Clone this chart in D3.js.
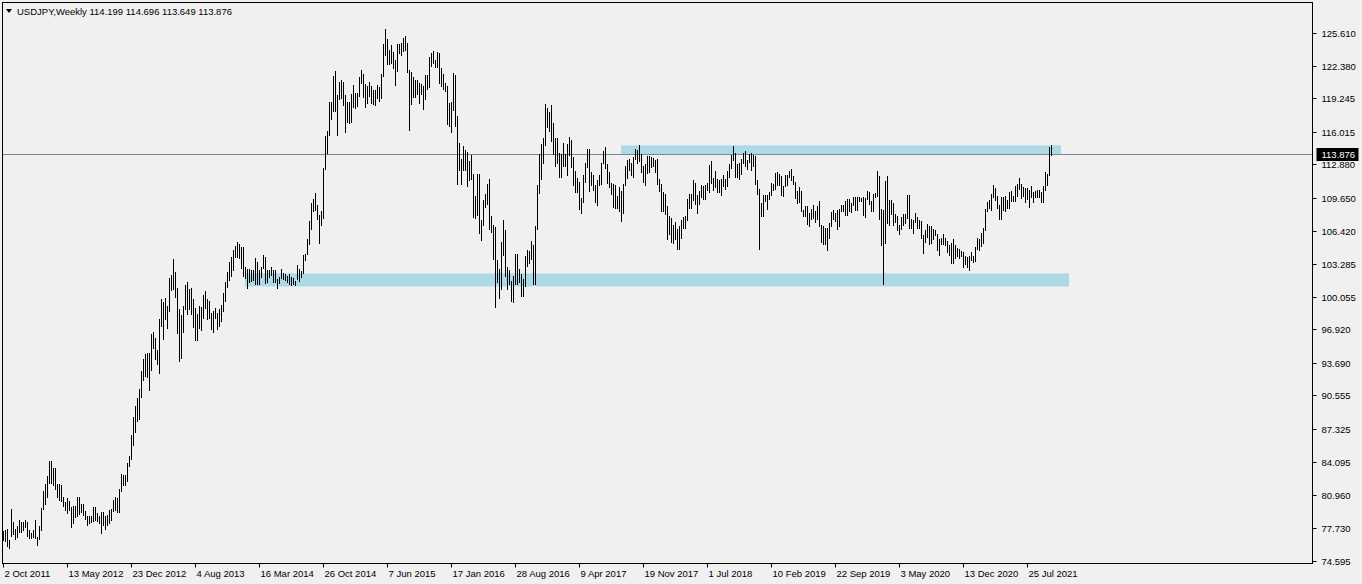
<!DOCTYPE html>
<html>
<head>
<meta charset="utf-8">
<script src="https://cdn.jsdelivr.net/npm/d3@7"></script>
<style>
  html, body { margin: 0; padding: 0; background: #f0f0f0; }
  svg { display: block; }
  text { font-family: "Liberation Sans", Arial, sans-serif; }
</style>
</head>
<body>
<svg id="chart" width="1362" height="584"></svg>
<script>
// ---- Data (USDJPY weekly, first bar = week of 2 Oct 2011) ----
const symbolTitle = "USDJPY,Weekly";
const lastOHLC = ["114.199", "114.696", "113.649", "113.876"];
const lastPrice = 113.876;

const highs = [
  // 2011 Oct-Dec
  77.4,77.5,77.6,76.6,79.6,78.3,77.6,77.9,78.5,78.3,78.3,78.5,78.3,
  // 2012
  77.5,77.3,77.5,78.5,76.9,77.9,79.7,81.35,82.0,82.8,84.2,84.2,83.5,83.5,82.0,81.95,81.85,80.75,80.2,80.6,80.3,79.8,
  79.9,79.9,80.7,80.75,80.1,80.1,79.35,78.9,78.9,78.9,79.75,79.8,79.15,78.9,79.3,79.3,78.9,79.0,79.5,79.6,80.45,80.7,
  80.6,81.5,82.96,82.9,82.9,84.0,84.7,86.7,88.45,
  // 2013
  89.55,90.3,91.2,92.95,94.1,94.5,94.6,94.65,96.5,96.7,96.1,94.9,97.9,99.9,99.6,99.95,99.2,101.9,102.2,103.7,102.5,100.9,
  98.9,98.3,99.2,101.2,101.5,100.8,100.9,99.9,99.0,98.4,99.2,99.1,100.2,100.6,99.9,99.7,98.5,98.7,99.0,98.5,98.9,99.3,
  100.4,101.5,102.5,103.4,103.9,104.6,105.0,105.4,
  // 2014
  105.2,104.9,104.9,103.0,102.8,102.8,102.7,102.7,103.8,103.4,102.7,103.0,104.1,103.9,102.7,102.7,103.0,102.7,102.7,101.8,
  102.0,102.8,102.4,102.3,102.1,102.3,102.0,101.9,101.6,103.1,102.8,102.6,104.1,104.2,105.7,107.4,109.1,109.5,110.1,108.9,
  108.0,108.4,112.5,115.6,116.1,118.9,118.9,121.4,121.9,119.6,120.8,121.0,
  // 2015
  120.8,119.6,118.9,118.9,119.7,120.5,119.8,119.8,121.3,122.0,121.6,120.6,120.4,120.8,120.4,120.1,120.1,120.5,120.3,121.6,
  124.5,125.9,125.0,123.9,124.4,123.7,123.0,124.5,124.5,124.6,125.1,125.3,124.6,122.0,121.8,121.3,121.0,121.0,120.7,120.6,
  120.4,121.5,121.5,123.2,123.6,123.8,123.0,123.7,123.6,122.2,121.6,120.7,
  // 2016
  120.4,118.8,118.9,121.7,121.5,117.5,114.9,113.4,114.6,114.3,114.1,113.2,113.8,111.9,109.8,111.9,111.9,107.5,109.4,110.0,
  111.0,111.5,107.9,107.0,106.8,103.6,102.8,105.4,107.5,106.5,103.0,102.7,101.6,102.1,104.2,104.2,102.8,102.3,101.8,104.0,
  104.6,104.5,105.5,105.1,106.9,110.9,113.9,114.8,115.4,118.7,118.3,117.9,
  // 2017
  118.6,116.9,115.4,115.4,114.0,113.9,114.9,113.9,114.8,115.5,115.2,113.6,112.2,111.6,111.2,109.6,111.8,113.0,114.4,114.4,
  112.1,111.8,110.9,111.4,111.8,113.0,114.2,114.5,112.9,112.1,111.1,111.0,110.9,109.8,110.7,110.3,111.0,112.7,113.3,113.4,
  113.0,113.6,114.4,114.3,114.7,113.9,112.7,112.9,113.7,113.7,113.6,113.5,113.3,
  // 2018
  113.4,111.5,111.0,110.2,110.0,108.8,107.9,107.7,107.0,107.3,106.6,106.9,107.5,107.8,107.9,109.5,110.0,110.0,111.4,111.1,
  109.9,110.3,110.9,110.8,110.9,111.1,112.8,113.2,111.6,112.2,111.5,111.4,111.5,111.8,111.5,112.2,112.9,113.8,114.6,114.0,
  112.9,113.0,113.4,114.0,114.2,113.3,113.9,114.0,113.8,113.7,111.4,110.5,
  // 2019
  109.1,109.9,109.9,109.9,110.2,111.1,111.0,112.0,112.1,111.9,111.7,110.8,111.8,111.8,112.2,112.4,111.7,111.2,110.3,110.7,
  110.3,108.5,108.8,108.8,108.2,108.6,108.9,108.4,108.8,109.3,107.0,106.9,106.7,106.7,107.2,108.3,108.5,108.2,108.5,108.6,
  108.9,108.9,109.3,109.5,109.5,109.1,109.7,109.7,109.7,109.7,109.6,109.7,
  // 2020
  109.6,110.3,110.2,109.3,110.0,110.1,112.2,111.7,108.6,108.5,111.3,111.7,109.4,109.4,109.1,108.1,107.9,107.0,107.8,108.1,
  108.1,109.9,109.9,107.6,107.5,108.2,107.8,107.5,107.4,106.0,106.5,107.1,106.9,106.9,106.6,106.5,106.1,105.7,105.8,106.1,
  105.8,105.5,105.1,105.3,105.7,105.1,104.8,104.7,104.5,104.4,104.0,103.9,
  // 2021
  104.0,104.4,104.0,104.9,105.8,105.7,106.2,106.7,108.6,109.2,109.4,110.0,110.9,110.6,109.8,108.9,109.7,109.7,109.8,109.4,
  110.2,110.3,109.8,110.8,111.0,111.6,111.0,110.7,110.6,110.6,110.4,110.8,110.2,110.3,110.4,110.4,110.2,110.8,112.1,111.9,
  114.5,114.696
];

const lows = [
  // 2011 Oct-Dec
  76.5,76.4,75.9,75.7,76.9,77.1,76.6,76.8,77.3,77.3,77.4,77.7,76.9,
  // 2012
  76.7,76.7,76.8,76.7,76.0,76.6,77.4,79.5,80.0,80.6,82.0,81.95,81.8,81.45,80.6,80.3,80.2,79.75,79.4,79.1,79.35,77.75,
  78.1,78.7,78.8,79.0,79.2,78.9,78.5,77.95,78.1,78.2,78.3,78.4,78.3,78.1,77.2,77.9,77.5,77.95,78.1,78.4,79.25,79.35,
  79.2,79.2,81.2,81.8,81.8,82.2,83.6,84.35,85.7,
  // 2013
  86.9,87.95,88.15,90.3,91.9,92.3,92.25,90.95,92.9,95.0,94.0,93.5,92.6,97.2,95.9,97.8,97.0,98.6,100.6,100.7,100.0,96.5,
  93.8,94.1,96.6,98.8,98.3,98.8,98.3,97.1,95.8,95.8,97.0,96.8,97.9,98.9,97.8,97.9,96.9,96.6,97.9,96.9,97.2,97.6,
  98.6,99.6,100.9,101.6,102.0,102.6,103.8,103.8,
  // 2014
  103.7,102.8,102.0,101.8,100.8,101.4,101.5,101.6,101.2,101.2,101.2,101.9,102.8,101.3,101.4,101.9,102.1,101.4,101.4,100.8,
  101.3,101.8,101.7,101.6,101.4,101.2,101.1,101.2,101.1,101.7,101.5,101.9,102.3,103.5,104.1,105.1,106.5,108.3,108.4,107.5,
  105.2,106.9,107.6,112.3,113.9,115.6,117.2,117.9,117.9,115.6,119.1,119.2,
  // 2015
  118.5,115.9,116.9,116.8,116.9,118.3,118.2,118.4,119.4,120.6,119.3,118.3,118.7,119.4,118.7,118.6,118.5,119.2,118.9,119.2,
  121.3,123.3,122.5,122.5,122.6,122.1,120.4,121.8,123.5,123.3,123.7,123.8,121.7,116.1,118.6,119.3,119.3,119.6,118.7,119.6,
  118.1,119.1,120.1,120.2,122.3,122.6,122.2,122.2,120.6,120.3,120.1,119.9,
  // 2016
  116.7,116.5,115.9,118.0,116.5,110.9,112.2,110.9,112.2,112.2,110.7,111.3,111.4,107.7,107.6,107.9,106.1,105.5,106.9,108.7,
  108.9,106.5,106.2,103.6,99.0,101.4,99.9,100.7,104.0,102.0,100.7,101.2,99.6,99.5,101.2,101.2,101.4,100.1,100.1,101.0,
  103.0,103.2,103.6,101.2,101.2,106.5,110.0,111.4,112.9,114.6,116.4,116.0,
  // 2017
  115.0,113.8,112.6,112.9,111.6,111.6,112.6,112.6,111.7,113.7,112.5,110.8,110.1,110.1,108.5,108.1,109.1,111.1,112.5,110.2,
  110.8,110.3,109.1,108.8,110.8,110.9,112.9,112.4,111.0,110.6,109.9,108.7,108.6,108.6,108.3,107.3,108.1,110.8,111.5,112.2,
  111.7,111.6,113.3,112.9,113.1,112.0,111.1,110.8,111.9,112.0,112.5,112.6,112.0,
  // 2018
  110.9,110.2,108.3,108.3,108.0,105.6,106.0,105.3,105.2,105.6,104.6,104.6,105.7,106.6,106.6,107.4,108.6,108.6,109.3,108.9,
  108.1,108.9,109.6,109.4,109.4,110.3,110.1,111.0,110.3,110.6,110.1,110.1,109.8,110.7,110.4,110.7,111.6,112.4,113.2,111.6,
  111.6,111.4,111.8,112.9,112.6,112.3,113.0,112.2,112.6,110.9,109.9,104.6,
  // 2019
  107.8,107.8,109.2,108.5,109.4,109.8,110.3,110.4,110.8,110.8,109.8,109.7,110.7,110.8,111.6,111.3,110.9,109.5,109.0,109.1,
  108.3,107.8,107.8,107.0,106.8,107.5,107.6,107.2,107.5,106.8,105.3,105.1,105.1,104.5,105.7,106.8,107.5,107.3,106.5,106.8,
  108.3,108.3,107.9,107.9,108.3,108.2,108.8,108.4,108.4,109.2,109.2,107.9,
  // 2020
  107.7,109.4,108.9,108.3,108.3,109.6,109.7,107.5,105.0,101.2,105.2,107.1,106.9,108.0,106.9,107.2,106.4,106.0,106.5,106.9,
  107.1,107.6,106.6,106.6,106.1,107.2,106.6,106.6,105.7,104.2,105.3,105.8,105.1,105.2,105.6,105.9,104.5,104.0,105.1,105.1,
  105.0,104.3,104.0,103.2,103.2,103.7,103.9,103.7,103.9,102.9,103.1,102.9,
  // 2021
  102.6,103.5,103.3,103.4,104.6,104.5,104.9,105.2,106.4,108.3,108.6,108.4,109.6,109.3,108.6,107.5,107.5,108.4,108.3,108.6,
  108.6,109.2,109.2,109.2,109.7,110.4,109.5,109.7,109.1,109.4,108.7,109.6,109.1,109.6,109.6,109.6,109.1,109.1,110.3,110.8,
  111.7,113.649
];

// X-axis labels (bar index of each labelled week) and Y-axis labels
const xTickIndex = [0,32,64,96,128,160,192,224,256,288,320,352,384,416,448,480,512];
const xTickLabels = ["2 Oct 2011","13 May 2012","23 Dec 2012","4 Aug 2013","16 Mar 2014","26 Oct 2014","7 Jun 2015",
  "17 Jan 2016","28 Aug 2016","9 Apr 2017","19 Nov 2017","1 Jul 2018","10 Feb 2019","22 Sep 2019","3 May 2020",
  "13 Dec 2020","25 Jul 2021"];
const yTicks = [125.610,122.380,119.245,116.015,112.880,109.650,106.420,103.285,100.055,96.920,93.690,90.555,87.325,84.095,80.960,77.730,74.595];

// Support / resistance zones: [startBar, endBar, upperPrice, lowerPrice]
const zoneStart = [309, 121];
const zoneEnd   = [529, 533];
const zoneTop   = [114.70, 102.33];
const zoneBot   = [113.82, 101.07];

// ---- Layout ----
const W = 1362, H = 584;
const pLeft = 2.5, pRight = 1312.5, pTop = 2.5, pBottom = 563.5;

const svg = d3.select("#chart");
svg.append("rect").attr("x",0).attr("y",0).attr("width",W).attr("height",H).attr("fill","#f0f0f0");

const n = highs.length;
const x = d3.scaleLinear().domain([0, n - 1]).range([3, 3 + 2 * (n - 1)]);
const y = d3.scaleLinear().domain([74.595, 125.610]).range([560.5, 32.5]);

svg.append("clipPath").attr("id","plot").append("rect")
  .attr("x", pLeft).attr("y", pTop).attr("width", pRight - pLeft).attr("height", pBottom - pTop);
const plot = svg.append("g").attr("clip-path","url(#plot)");

// zones
plot.selectAll("rect.zone").data(zoneStart).join("rect")
  .attr("class","zone")
  .attr("x", (d,i) => x(zoneStart[i]))
  .attr("width", (d,i) => x(zoneEnd[i]) - x(zoneStart[i]))
  .attr("y", (d,i) => y(zoneTop[i]))
  .attr("height", (d,i) => y(zoneBot[i]) - y(zoneTop[i]))
  .attr("fill", "#add8e6");

// current price line
const py = Math.round(y(lastPrice)) + 0.5;
plot.append("line")
  .attr("x1", pLeft).attr("x2", pRight)
  .attr("y1", py).attr("y2", py)
  .attr("stroke", "#778899").attr("stroke-width", 1);

// bars (high-low)
plot.selectAll("rect.bar").data(highs).join("rect")
  .attr("class","bar")
  .attr("x", (d,i) => Math.round(x(i)))
  .attr("width", 1)
  .attr("y", (d,i) => Math.round(y(highs[i])))
  .attr("height", (d,i) => Math.max(1, Math.round(y(lows[i])) - Math.round(y(highs[i]))))
  .attr("fill", "#000");

// frame
svg.append("rect").attr("x", pLeft).attr("y", pTop)
  .attr("width", pRight - pLeft).attr("height", pBottom - pTop)
  .attr("fill","none").attr("stroke","#000").attr("stroke-width",1);

// Y axis
const yAxis = svg.append("g");
yTicks.forEach(v => {
  const yy = Math.round(y(v)) + 0.5;
  yAxis.append("line").attr("x1", pRight).attr("x2", pRight + 4).attr("y1", yy).attr("y2", yy).attr("stroke","#000");
  yAxis.append("text").attr("x", pRight + 9).attr("y", yy).attr("dy","0.35em")
    .attr("font-size","9.5px").attr("fill","#000").text(v.toFixed(3));
});

// price label
svg.append("rect").attr("x", pRight + 4).attr("y", py - 6.5).attr("width", 42).attr("height", 13).attr("fill","#000");
svg.append("text").attr("x", pRight + 9).attr("y", py).attr("dy","0.35em")
  .attr("font-size","9.5px").attr("fill","#fff").text(lastPrice.toFixed(3));

// X axis
const xAxis = svg.append("g");
xTickIndex.forEach((idx, i) => {
  const xx = Math.round(x(idx)) + 0.5;
  xAxis.append("line").attr("x1", xx).attr("x2", xx).attr("y1", pBottom).attr("y2", pBottom + 4).attr("stroke","#000");
  xAxis.append("text").attr("x", xx + 1).attr("y", 577)
    .attr("font-size","9.5px").attr("fill","#000").text(xTickLabels[i]);
});

// header
svg.append("path").attr("d","M6,9 L12,9 L9,13 Z").attr("fill","#000");
svg.append("text").attr("x", 17).attr("y", 15).attr("font-size","9.5px").attr("fill","#000")
  .text(symbolTitle + "  " + lastOHLC.join(" "));
</script>
</body>
</html>
